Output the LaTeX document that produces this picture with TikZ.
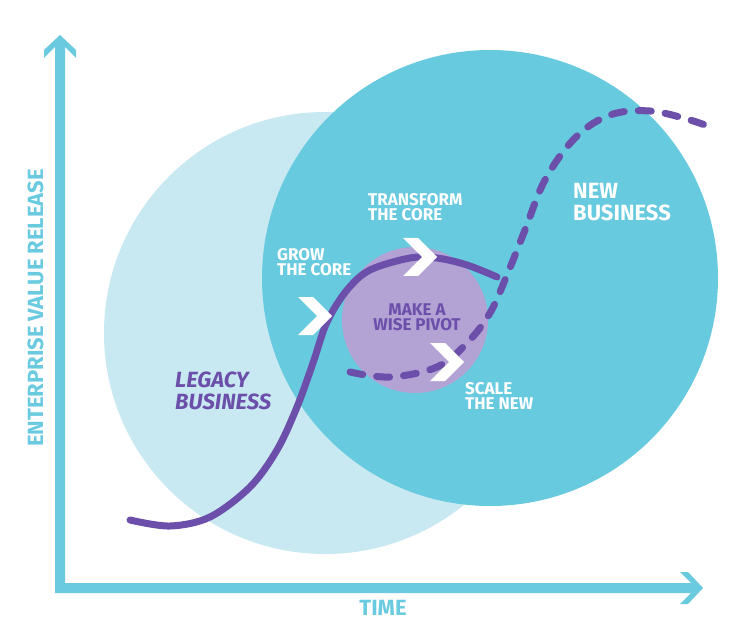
\documentclass[tikz,border=0pt]{standalone}
\usepackage{fontspec}
\setmainfont{Fira Sans}
\definecolor{axisblue}{HTML}{6ACBE0}
\definecolor{lightc}{HTML}{C8E9F1}
\definecolor{bigc}{HTML}{67CADF}
\definecolor{purplec}{HTML}{B3A3D4}
\definecolor{curvec}{HTML}{6B4FAA}
\begin{document}
\begin{tikzpicture}[x=1pt,y=-1pt,
  lbl/.style={font=\fontsize{17}{15}\selectfont\bfseries, inner sep=0pt, align=left, text=white},
  bigl/.style={font=\fontsize{22}{22}\selectfont\bfseries, inner sep=0pt, align=left},
  curveline/.style={draw=curvec, line width=7pt, line cap=round},
  chev/.pic={\fill[white] (0,0) -- (15,0) -- (34,19) -- (15,38) -- (0,38) -- (19,19) -- cycle;}]
\useasboundingbox (0,0) rectangle (750,631);
\fill[white] (0,0) rectangle (750,631);
% axes
\fill[axisblue] (55,593) -- (55,47) -- (44,58) -- (44,50) -- (60,35) -- (76,50) -- (76,58) -- (65,47)
  -- (65,583) -- (691,583) -- (680,572) -- (688,572) -- (703,588) -- (688,604) -- (680,604) -- (691,593) -- cycle;
% circles
\fill[lightc] (325,333) circle[radius=221pt];
\fill[bigc] (490,278) circle[radius=228pt];
\fill[purplec] (415,320) circle[radius=73pt];
% curves
\draw[curveline] plot[smooth, tension=0.55] coordinates {(130,520) (170,526) (210,517) (250,487) (277,450) (297,407) (313,363) (327,322) (347,290) (370,270) (410,258) (437,258) (467,265) (497,277)};
\draw[curveline, dash pattern=on 13pt off 14pt] plot[smooth, tension=0.6] coordinates {(350,372) (390,377) (437,367) (467,343) (490,313) (507,275) (525,230) (545,180) (575,138) (610,115) (650,111) (690,120) (715,129)};
% chevrons
\pic at (298,297) {chev};
\pic at (403,238) {chev};
\pic at (430,343) {chev};
% labels
\node[lbl, anchor=north west] (transform) at (368,193) {TRANSFORM\\THE CORE};
\node[lbl, anchor=north west] (grow) at (277,248) {GROW\\THE CORE};
\node[lbl, anchor=north west] (scale) at (465,382) {SCALE\\THE NEW};
\node[lbl, anchor=north, align=center, text=curvec] (pivot) at (417,304) {MAKE A\\WISE PIVOT};
\node[bigl, anchor=north west, text=white] (newb) at (573,183) {NEW\\BUSINESS};
\node[bigl, anchor=north west, text=curvec, font=\fontsize{22}{22}\selectfont\bfseries\itshape] (legacy) at (175,372) {LEGACY\\BUSINESS};
\node[bigl, anchor=north, text=axisblue] (time) at (383,600) {TIME};
\node[bigl, rotate=90, text=axisblue] (evr) at (35.5,308) {ENTERPRISE VALUE RELEASE};
\end{tikzpicture}
\end{document}
